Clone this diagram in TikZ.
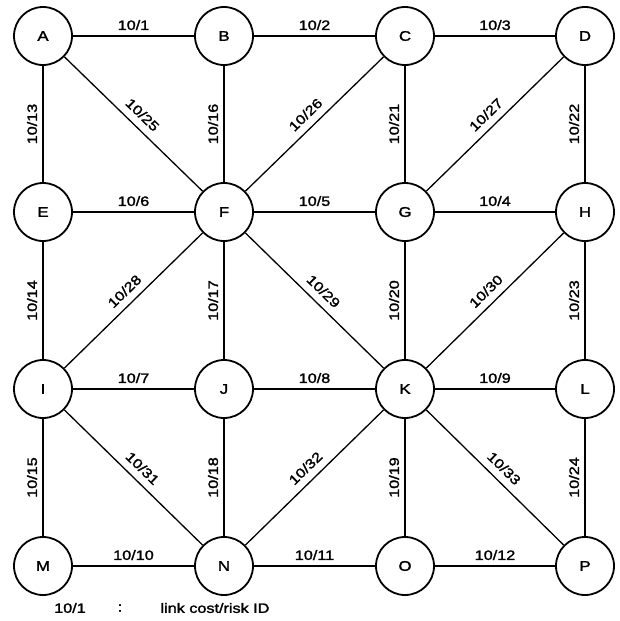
\documentclass[tikz,border=0pt]{standalone}
\usepackage{fontspec}
\setmainfont{Liberation Sans}[FakeStretch=1.2, FakeBold=1.8]
\usepackage{tikz}
\usetikzlibrary{positioning}

\begin{document}
\begin{tikzpicture}[
    x=1pt, y=-1pt,
    site/.style={draw, circle, line width=1.8pt, minimum size=58pt, inner sep=0pt, font=\fontsize{14}{14}\selectfont},
    link/.style={line width=1.3pt},
    cost/.style={above=2pt, font=\fontsize{13.5}{13.5}\selectfont},
    slcost/.style={sloped, above=2pt, font=\fontsize{13.5}{13.5}\selectfont},
    dgcost/.style={sloped, above=4pt, font=\fontsize{13.5}{13.5}\selectfont}
]
\useasboundingbox (0,0) rectangle (619,621);
% sites
\node[site] (A) at (43,36)  {A};
\node[site] (B) at (224,36) {B};
\node[site] (C) at (405,36) {C};
\node[site] (D) at (585,36) {D};
\node[site] (E) at (43,212)  {E};
\node[site] (F) at (224,212) {F};
\node[site] (G) at (405,212) {G};
\node[site] (H) at (585,212) {H};
\node[site] (I) at (43,389)  {I};
\node[site] (J) at (224,389) {J};
\node[site] (K) at (405,389) {K};
\node[site] (L) at (585,389) {L};
\node[site] (M) at (43,566)  {M};
\node[site] (N) at (224,566) {N};
\node[site] (O) at (405,566) {O};
\node[site] (P) at (585,566) {P};
% horizontal links
\draw[link] (A) -- node[cost] {10/1} (B);
\draw[link] (B) -- node[cost] {10/2} (C);
\draw[link] (C) -- node[cost] {10/3} (D);
\draw[link] (E) -- node[cost] {10/6} (F);
\draw[link] (F) -- node[cost] {10/5} (G);
\draw[link] (G) -- node[cost] {10/4} (H);
\draw[link] (I) -- node[cost] {10/7} (J);
\draw[link] (J) -- node[cost] {10/8} (K);
\draw[link] (K) -- node[cost] {10/9} (L);
\draw[link] (M) -- node[cost] {10/10} (N);
\draw[link] (N) -- node[cost] {10/11} (O);
\draw[link] (O) -- node[cost] {10/12} (P);
% vertical links
\draw[link] (E) -- node[slcost] {10/13} (A);
\draw[link] (I) -- node[slcost] {10/14} (E);
\draw[link] (M) -- node[slcost] {10/15} (I);
\draw[link] (F) -- node[slcost] {10/16} (B);
\draw[link] (J) -- node[slcost] {10/17} (F);
\draw[link] (N) -- node[slcost] {10/18} (J);
\draw[link] (G) -- node[slcost] {10/21} (C);
\draw[link] (K) -- node[slcost] {10/20} (G);
\draw[link] (O) -- node[slcost] {10/19} (K);
\draw[link] (H) -- node[slcost] {10/22} (D);
\draw[link] (L) -- node[slcost] {10/23} (H);
\draw[link] (P) -- node[slcost] {10/24} (L);
% diagonal links
\draw[link] (A) -- node[dgcost] {10/25} (F);
\draw[link] (F) -- node[dgcost] {10/26} (C);
\draw[link] (G) -- node[dgcost] {10/27} (D);
\draw[link] (I) -- node[dgcost] {10/28} (F);
\draw[link] (F) -- node[dgcost] {10/29} (K);
\draw[link] (K) -- node[dgcost] {10/30} (H);
\draw[link] (I) -- node[dgcost] {10/31} (N);
\draw[link] (N) -- node[dgcost] {10/32} (K);
\draw[link] (K) -- node[dgcost] {10/33} (P);
% legend
\node[font=\fontsize{13.5}{13.5}\selectfont] (key) at (70,608) {10/1};
\node[font=\fontsize{13.5}{13.5}\selectfont] (sep) at (120,608) {:};
\node[font=\fontsize{13.5}{13.5}\selectfont] (meaning) at (215,608) {link cost/risk ID};
\end{tikzpicture}
\end{document}
